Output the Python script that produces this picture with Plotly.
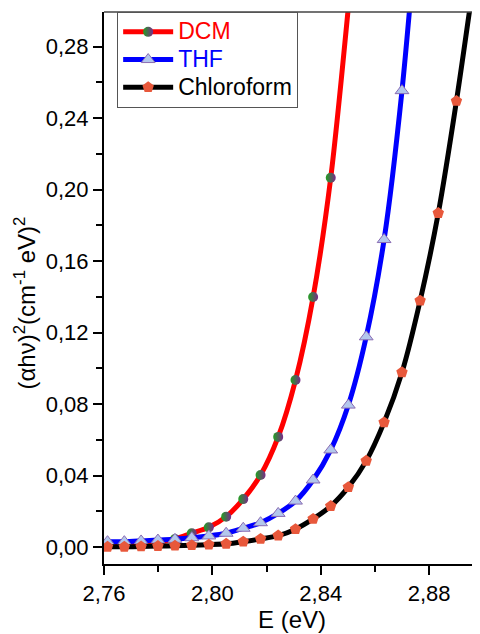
import plotly.graph_objects as go

# Photon energy (eV) of the sampled points (shared by all three curves)
E = [2.7613, 2.7675, 2.7737, 2.7799, 2.7862, 2.7924, 2.7987, 2.8051, 2.8114,
     2.8178, 2.8243, 2.8307, 2.8372, 2.8437, 2.8502, 2.8568, 2.8634, 2.8700,
     2.8767, 2.8834, 2.8901, 2.8968]

# (alpha h nu)^2 values
DCM = [0.0005, 0.0009, 0.0015, 0.0026, 0.0045, 0.0077, 0.0110, 0.0170, 0.0268,
       0.0403, 0.0616, 0.0934, 0.1399, 0.2066, 0.3020, None, None, None,
       None, None, None, None]
THF = [0.0030, 0.0030, 0.0034, 0.0039, 0.0043, 0.0052, 0.0062, 0.0077, 0.0105,
       0.0136, 0.0188, 0.0257, 0.0375, 0.0543, 0.0794, 0.1176, 0.1720, 0.2553,
       0.3700, None, None, None]
CHL = [0.0001, 0.0001, 0.0003, 0.0005, 0.0007, 0.0010, 0.0013, 0.0018, 0.0030,
       0.0045, 0.0064, 0.0100, 0.0157, 0.0229, 0.0335, 0.0482, 0.0697, 0.0977,
       0.1378, 0.1868, 0.2495, 0.3200]

X_TICKS = [2.76, 2.80, 2.84, 2.88]
Y_TICKS = [0.00, 0.04, 0.08, 0.12, 0.16, 0.20, 0.24, 0.28]

FONT = "Arial, Liberation Sans, sans-serif"

fig = go.Figure()

fig.add_trace(go.Scatter(
    x=E, y=DCM, mode="lines+markers",
    name="<span style='color:#ff0000;font-size:23px'>DCM</span>",
    line=dict(color="#ff0000", width=5, shape="spline", smoothing=0.8),
    marker=dict(symbol="circle", size=10, color="#22a022",
                gradient=dict(type="horizontal", color="#7a2a8a"),
                line=dict(width=0)),
))
fig.add_trace(go.Scatter(
    x=E, y=THF, mode="lines+markers",
    name="<span style='color:#0000ff;font-size:23px'>THF</span>",
    line=dict(color="#0000ff", width=5, shape="spline", smoothing=0.8),
    marker=dict(symbol="triangle-up", size=12, color="#b3c7ec",
                line=dict(width=1, color="#8a6db3")),
))
fig.add_trace(go.Scatter(
    x=E, y=CHL, mode="lines+markers",
    name="<span style='color:#000000;font-size:23px'>Chloroform</span>",
    line=dict(color="#000000", width=5, shape="spline", smoothing=0.8),
    marker=dict(symbol="pentagon", size=12, color="#e8583b",
                line=dict(width=0)),
))

axis_common = dict(
    showline=True, linecolor="#000000", linewidth=2,
    ticks="outside", ticklen=9, tickwidth=2, tickcolor="#000000",
    showgrid=False, zeroline=False,
    tickfont=dict(family=FONT, size=22, color="#000000"),
)

fig.update_xaxes(
    range=[2.76, 2.8988], tickvals=X_TICKS, tickformat=".2f",
    minor=dict(dtick=0.02, tick0=2.76, ticks="outside", ticklen=6,
               tickwidth=2, tickcolor="#000000"),
    title=dict(text="E (eV)", font=dict(family=FONT, size=24, color="#000000"),
               standoff=4),
    **axis_common,
)
fig.update_yaxes(
    range=[-0.0095, 0.2993], tickvals=Y_TICKS, tickformat=".2f",
    minor=dict(dtick=0.02, tick0=0, ticks="outside", ticklen=6,
               tickwidth=2, tickcolor="#000000"),
    **axis_common,
)

# y-axis title as a rotated annotation for precise placement
fig.add_annotation(
    text="(\u03b1h\u03bd)<sup>2</sup>(cm<sup>-1</sup> eV)<sup>2</sup>",
    xref="paper", yref="paper", x=-0.21, y=0.472,
    xanchor="center", yanchor="middle", textangle=-90, showarrow=False,
    font=dict(family=FONT, size=24, color="#000000"),
)

# top frame line
fig.add_shape(type="line", xref="paper", yref="paper", x0=0, x1=1, y0=1, y1=1,
              line=dict(color="#444444", width=1.5))

# The page body adds an 8 px margin, so the figure is sized/offset to compensate
fig.update_layout(
    width=472, height=626,
    margin=dict(l=96, r=0, t=4, b=70),
    paper_bgcolor="white", plot_bgcolor="white",
    separators=", ",
    showlegend=True,
    legend=dict(x=0.035, y=1, xanchor="left", yanchor="top",
                bgcolor="white", bordercolor="#555555", borderwidth=1,
                font=dict(family=FONT, size=19, color="#000000"),
                itemwidth=50, tracegroupgap=0),
)

fig.write_html("out.html")
